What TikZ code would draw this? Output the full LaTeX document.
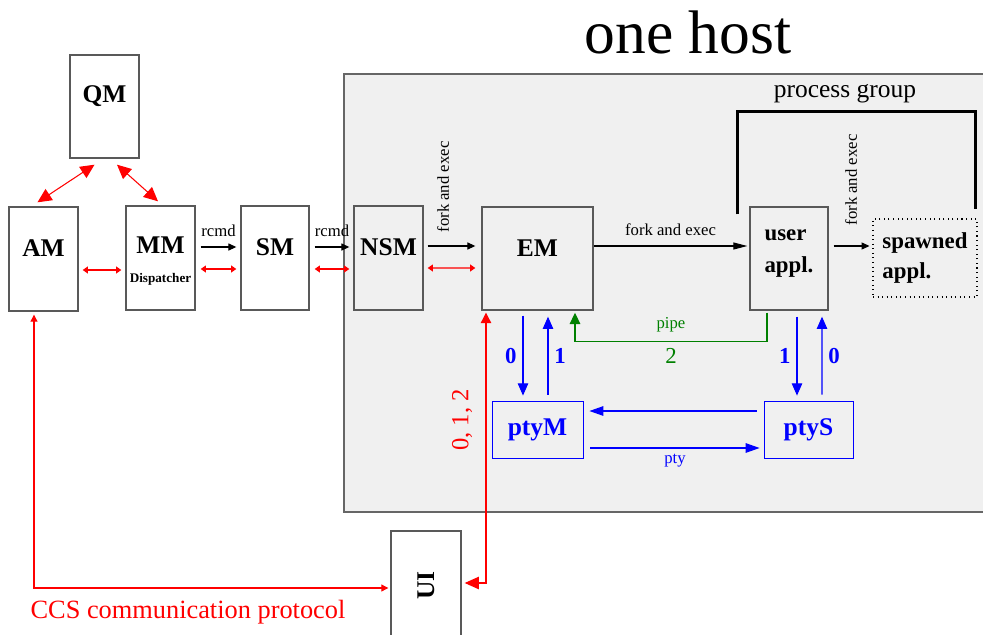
\documentclass[tikz,border=0pt]{standalone}
\usepackage{fontspec}
\setmainfont{Liberation Serif}
\usetikzlibrary{arrows.meta, positioning, calc}

\begin{document}
\begin{tikzpicture}[x=0.02cm, y=-0.02cm, font=\fontsize{9.5}{11}\selectfont]
\tikzstyle{box} = [rectangle, draw=black!65, line width=0.8pt, inner sep=1pt,
    font=\fontsize{14.5}{17}\selectfont\bfseries]
\tikzstyle{boxlabel} = [yshift=6pt, inner sep=0pt, font=\fontsize{14.5}{17}\selectfont\bfseries]
\tikzstyle{ptybox} = [rectangle, draw=blue, line width=0.5pt, text=blue,
    font=\fontsize{14.5}{17}\selectfont\bfseries]
\tikzstyle{arrow} = [line width=0.6pt, -{Triangle[length=4.5pt,width=4pt]}]
\tikzstyle{redarrow} = [red, line width=0.6pt, {Triangle[length=3pt,width=4pt]}-{Triangle[length=3pt,width=4pt]}]
\tikzstyle{bigred} = [red, line width=0.6pt, {Triangle[length=8pt,width=7.5pt]}-{Triangle[length=8pt,width=7.5pt]}]
\tikzstyle{bluearrow} = [blue, line width=0.6pt, -{Triangle[length=7pt,width=6pt]}]
\tikzstyle{ptyarrow} = [blue, line width=0.6pt, -{Triangle[length=8pt,width=5.5pt]}]
\tikzstyle{bluenum} = [text=blue, font=\fontsize{13}{15}\selectfont\bfseries]

\useasboundingbox (0,0) rectangle (983,635);
\clip (0,0) rectangle (983,635);

% the host
\node (host) [rectangle, draw=black!60, line width=0.8pt, fill=black!6, minimum width=13.02cm, minimum height=8.76cm] at (669.5,293) {};
\node (title) [font=\fontsize{35}{40}\selectfont] at (688,32) {one host};

% managers
\node (qm)  [box, fill=white, minimum width=1.38cm, minimum height=2.06cm, label={[boxlabel]center:QM}] at (104.5,106.5) {};
\node (am)  [box, fill=white, minimum width=1.38cm, minimum height=2.08cm, label={[boxlabel]center:AM}] at (43.5,259) {};
\node (mm)  [box, fill=white, minimum width=1.38cm, minimum height=2.08cm, label={[boxlabel, yshift=-7.5pt, align=center]center:MM\\[-0.5pt]{\fontsize{7.5}{9}\selectfont Dispatcher}}] at (160.5,258) {};
\node (sm)  [box, fill=white, minimum width=1.36cm, minimum height=2.08cm, label={[boxlabel]center:SM}] at (275,258) {};
\node (nsm) [box, minimum width=1.38cm, minimum height=2.08cm, label={[boxlabel]center:NSM}] at (388.5,258) {};
\node (em)  [box, minimum width=2.22cm, minimum height=2.06cm, label={[boxlabel]center:EM}] at (537.5,258.5) {};
\node (user) [box, minimum width=1.56cm, minimum height=2.06cm, label={[boxlabel, yshift=-3.2pt, font=\fontsize{13}{18}\selectfont\bfseries, align=left]center:user\\appl.}] at (789,258.5) {};
\node (spawned) [box, draw=black, line width=0.6pt, dotted, minimum width=2.08cm, minimum height=1.56cm, align=left, font=\fontsize{13}{17}\selectfont\bfseries] at (925,258) {spawned\\appl.};
\node (ptym) [ptybox, minimum width=1.82cm, minimum height=1.14cm] at (537.5,429.5) {ptyM};
\node (ptys) [ptybox, minimum width=1.78cm, minimum height=1.14cm] at (808.5,429.5) {ptyS};
\node (ui)  [box, fill=white, minimum width=1.4cm, minimum height=2.18cm] at (426,585.5) {\rotatebox{90}{UI}};

% QM links
\draw [bigred] ($(qm.south)+(-10,6)$) -- ($(am.north)+(-6,-4)$);
\draw [bigred] ($(qm.south)+(12.5,6)$) -- ($(mm.north)+(-2.5,-4)$);

% rcmd chain
\draw [redarrow] ($(am.east)+(4,11)$) -- ($(mm.west)+(-4,12)$);
\draw [arrow] ($(mm.east)+(5,-11)$) -- node[above=2pt] {rcmd} ($(sm.west)+(-4,-11)$);
\draw [redarrow] ($(mm.east)+(5,11)$) -- ($(sm.west)+(-4,11)$);
\draw [arrow] ($(sm.east)+(5,-11)$) -- node[above=2pt] {rcmd} ($(nsm.west)+(-4,-11)$);
\draw [redarrow] ($(sm.east)+(5,11)$) -- ($(nsm.west)+(-4,11)$);
\draw [arrow] ($(nsm.east)+(4,-12)$) -- ($(em.west)+(-6,-12.5)$);
\node (forkem) [rotate=90] at (443,187) {fork and exec};
\draw [redarrow] ($(nsm.east)+(4,10)$) -- ($(em.west)+(-6,9.5)$);

% fork and exec
\draw [line width=0.6pt, -{Triangle[length=8pt,width=4pt]}] ($(em.east)+(0,-12.5)$) -- node[above=2pt] {fork and exec} ($(user.west)+(-2,-12.5)$);
\draw [arrow] ($(user.east)+(5,-12.5)$) -- ($(spawned.west)+(-3,-12)$);
\node (forkuser) [rotate=90] at (851,180) {fork and exec};

% process group
\draw [line width=1.6pt] ($(user.north west)+(-12,8)$) |- ($(spawned.north east)+(-2,-107)$) -- ($(spawned.north east)+(-2,-9)$);
\node (group) [font=\fontsize{14.5}{16}\selectfont] at (845,94) {process group};

% pipe
\draw [green!50!black, line width=0.8pt, -{Triangle[length=6.5pt,width=6pt]}] ($(user.south)+(-22,2)$) -- ++(0,29) -| node[pos=0.25, above=2pt] {pipe} node[pos=0.25, below, font=\fontsize{13}{15}\selectfont] {2} ($(em.south)+(37.5,2)$);

% pty
\draw [bluearrow] ($(em.south)+(-14.5,5)$) -- node[left, bluenum] {0} ($(ptym.north)+(-14.5,-5)$);
\draw [bluearrow] ($(ptym.north)+(10.5,-6)$) -- node[right, bluenum] {1} ($(em.south)+(10.5,6)$);
\draw [bluearrow] ($(user.south)+(8,6)$) -- node[left, bluenum] {1} ($(ptys.north)+(-11.5,-5)$);
\draw [bluearrow] ($(ptys.north)+(13.5,-6)$) -- node[right, bluenum] {0} ($(user.south)+(33,6)$);
\draw [ptyarrow] ($(ptys.west)+(-7,-18.5)$) -- ($(ptym.east)+(6,-18.5)$);
\draw [ptyarrow] ($(ptym.east)+(7,18.5)$) -- node[below, text=blue] {pty} ($(ptys.west)+(-4,18.5)$);

% UI links
\draw [red, line width=0.6pt, {Triangle[length=6pt,width=6pt]}-{Triangle[length=8pt,width=7pt]}] ($(em.south)+(-51.5,2)$) |- ($(ui.east)+(3,-2.5)$);
\node (fds) [rotate=90, text=red, font=\fontsize{14}{16}\selectfont] at (462,420) {0, 1, 2};
\draw [red, line width=0.6pt, {Triangle[length=4pt,width=4pt]}-{Triangle[length=4pt,width=4pt]}] ($(am.south)+(-9.5,3)$) |- ($(ui.west)+(-2,2.5)$);
\node (ccs) [text=red, font=\fontsize{15}{18}\selectfont] at (188,612) {CCS communication protocol};

\end{tikzpicture}
\end{document}
